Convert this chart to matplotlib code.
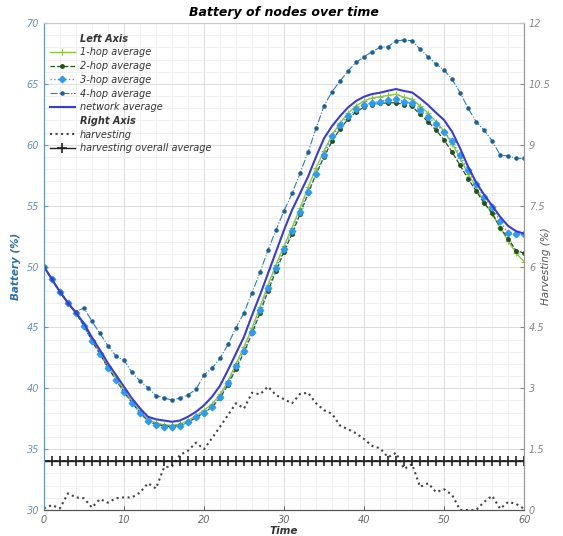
import numpy as np
import matplotlib
matplotlib.use('Agg')
import matplotlib.pyplot as plt
from matplotlib.lines import Line2D
from matplotlib.ticker import MultipleLocator

t = np.arange(61)

hop1 = [50.0, 48.95, 47.9, 47.0, 46.2, 45.2, 44.0, 42.9, 41.8, 40.8,
        39.85, 38.9, 38.1, 37.45, 37.15, 37.0, 36.95, 37.05, 37.35, 37.75,
        38.2, 38.7, 39.5, 40.6, 42.0, 43.4, 44.95, 46.7, 48.5, 50.15,
        51.7, 53.2, 54.8, 56.5, 58.1, 59.5, 60.8, 61.8, 62.6, 63.2,
        63.6, 63.85, 63.95, 64.05, 64.15, 63.9, 63.75, 63.2, 62.6, 61.9,
        61.1, 60.1, 58.9, 57.6, 56.5, 55.3, 54.3, 53.2, 52.1, 51.1, 50.4]
hop2 = [50.0, 48.95, 47.9, 47.0, 46.2, 45.1, 43.9, 42.8, 41.7, 40.7,
        39.7, 38.8, 38.0, 37.3, 37.05, 36.9, 36.85, 36.95, 37.2, 37.6,
        38.0, 38.45, 39.2, 40.3, 41.6, 42.95, 44.5, 46.2, 48.0, 49.65,
        51.2, 52.7, 54.3, 56.0, 57.6, 59.0, 60.3, 61.3, 62.1, 62.7,
        63.1, 63.3, 63.4, 63.45, 63.45, 63.3, 63.15, 62.5, 61.9, 61.2,
        60.4, 59.4, 58.3, 57.2, 56.2, 55.2, 54.4, 53.2, 52.3, 51.3, 51.1]
hop3 = [50.0, 48.95, 47.9, 47.0, 46.2, 45.1, 43.9, 42.8, 41.7, 40.7,
        39.7, 38.8, 38.0, 37.3, 37.0, 36.85, 36.8, 36.9, 37.2, 37.6,
        38.0, 38.5, 39.3, 40.4, 41.8, 43.1, 44.65, 46.4, 48.2, 49.85,
        51.4, 52.9, 54.5, 56.1, 57.6, 59.2, 60.7, 61.6, 62.35, 62.9,
        63.25, 63.45, 63.55, 63.68, 63.73, 63.55, 63.4, 62.86, 62.3, 61.7,
        61.05, 60.3, 59.15, 57.9, 56.8, 55.7, 54.9, 53.7, 52.75, 52.7, 52.7]
hop4 = [50.0, 48.95, 47.9, 46.98, 46.3, 46.6, 45.5, 44.5, 43.5, 42.65,
        42.3, 41.3, 40.6, 40.05, 39.4, 39.2, 39.03, 39.2, 39.47, 39.9,
        41.1, 41.64, 42.46, 43.6, 44.98, 46.2, 47.85, 49.52, 51.36, 53.0,
        54.58, 56.0, 57.65, 59.4, 61.35, 63.2, 64.36, 65.24, 66.06, 66.77,
        67.23, 67.65, 68.0, 68.05, 68.55, 68.6, 68.55, 67.84, 67.23, 66.63,
        66.14, 65.37, 64.28, 63.0, 61.9, 61.2, 60.33, 59.16, 59.08, 58.89, 58.89]
network = [50.0, 48.95, 47.93, 47.03, 46.2, 45.33, 44.18, 43.14, 42.05, 41.09,
           40.13, 39.17, 38.35, 37.66, 37.45, 37.35, 37.25, 37.35, 37.66, 38.07,
           38.6, 39.3, 40.21, 41.5, 42.87, 44.23, 46.0, 47.66, 49.44, 51.22,
           53.0, 54.64, 56.0, 57.38, 59.02, 60.53, 61.54, 62.36, 63.07, 63.6,
           63.95, 64.17, 64.28, 64.44, 64.58, 64.42, 64.3, 63.81, 63.26, 62.63,
           62.03, 61.07, 59.71, 58.2, 56.9, 55.9, 55.0, 54.09, 53.33, 52.9, 52.7]

harvesting = [0.04, 0.12, 0.04, 0.41, 0.31, 0.29, 0.06, 0.27, 0.18, 0.29,
              0.31, 0.31, 0.43, 0.66, 0.53, 1.05, 1.08, 1.36, 1.46, 1.66,
              1.5, 1.77, 2.05, 2.34, 2.63, 2.5, 2.89, 2.85, 3.04, 2.83,
              2.73, 2.63, 2.86, 2.89, 2.63, 2.46, 2.37, 2.08, 1.99, 1.89,
              1.75, 1.58, 1.52, 1.30, 1.41, 1.01, 1.13, 0.57, 0.66, 0.44,
              0.51, 0.37, 0.0, 0.0, 0.0, 0.2, 0.35, 0.03, 0.2, 0.15, 0.03]
harvest_avg = np.full(len(t), np.mean(harvesting))

fig = plt.figure(figsize=(5.63, 5.36), dpi=100)
ax = fig.add_axes([0.078, 0.0485, 0.853, 0.9085])
ax2 = ax.twinx()

c1, c2, c3, c4, cn = '#8cc63f', '#24501c', '#2d9cf0', '#2b7dbd', '#3b3bdc'
st1 = dict(color=c1, lw=1.0, ls='-', marker='+', ms=4.5, mew=0.8)
st2 = dict(color=c2, lw=0.9, ls='--', marker='.', ms=5)
st3 = dict(color=c3, lw=1.0, ls=':', marker='D', ms=3.3)
st4 = dict(color=c4, lw=0.8, ls='-.', marker='.', ms=4.5, mfc='#1f5f99', mec='#1f5f99')
stn = dict(color=cn, lw=1.5, ls='-')
sth = dict(color='#444444', lw=1.5, ls=':')
sta = dict(color='#222222', lw=1.0, ls='-', marker='+', ms=7, mew=1.2)

ax.plot(t, hop1, **st1)
ax.plot(t, hop2, **st2)
ax.plot(t, hop3, **st3)
ax.plot(t, hop4, **st4)
ax.plot(t, network, **stn)

ax2.plot(t, harvesting, **sth)
ax2.plot(t, harvest_avg, **sta)

ax.set_xlim(0, 60)
ax.set_ylim(30, 70)
ax2.set_ylim(0, 12)
ax.xaxis.set_major_locator(MultipleLocator(10))
ax.xaxis.set_minor_locator(MultipleLocator(2))
ax.yaxis.set_major_locator(MultipleLocator(5))
ax.yaxis.set_minor_locator(MultipleLocator(1))
ax2.yaxis.set_major_locator(MultipleLocator(1.5))
ax2.yaxis.set_major_formatter(plt.FuncFormatter(lambda v, p: f'{v:g}'))

ax.grid(True, which='major', color='#dcdcdc', lw=0.7)
ax.grid(True, which='minor', color='#eeeeee', lw=0.6)
ax.set_axisbelow(True)

left_col = '#6a93bb'
for a in (ax, ax2):
    a.spines['top'].set_color('#c8c8c8')
    a.spines['bottom'].set_color('#555555')
    a.spines['left'].set_color(left_col)
    a.spines['right'].set_color('#999999')
ax.tick_params(axis='x', which='both', direction='in', labelsize=7, colors='#666666', length=3)
ax.tick_params(axis='x', which='minor', length=0)
ax.tick_params(axis='y', which='major', direction='in', labelsize=7, colors=left_col, length=3)
ax.tick_params(axis='y', which='minor', length=0)
ax2.tick_params(axis='y', direction='in', labelsize=7, colors='#888888', length=3)
for lab in ax.get_xticklabels() + ax.get_yticklabels() + ax2.get_yticklabels():
    lab.set_fontstyle('italic')

ax.set_title('Battery of nodes over time', fontsize=9, fontweight='bold',
             fontstyle='italic', pad=5)
ax.set_xlabel('Time', fontsize=7.5, fontweight='bold', fontstyle='italic',
              color='#333333', labelpad=1)
ax.set_ylabel('Battery (%)', fontsize=7.5, fontweight='bold', fontstyle='italic',
              color='#2f6fa8', labelpad=4)
ax2.set_ylabel('Harvesting (%)', fontsize=7.5, fontstyle='italic', color='#555555')
ax2.yaxis.set_label_coords(1.035, 0.5)

# legend with two header rows (no handle) splitting left/right axis series
blank = Line2D([], [], linestyle='none')
handles = [blank, Line2D([], [], **st1), Line2D([], [], **st2),
           Line2D([], [], **st3), Line2D([], [], **st4), Line2D([], [], **stn),
           blank, Line2D([], [], **sth), Line2D([], [], **sta)]
labels = ['Left Axis', '1-hop average', '2-hop average', '3-hop average',
          '4-hop average', 'network average', 'Right Axis', 'harvesting',
          'harvesting overall average']
leg = ax2.legend(handles, labels, loc='upper left', bbox_to_anchor=(0.0, 0.99),
                 frameon=False, handlelength=2.6, handletextpad=0.5,
                 labelspacing=0.38, borderaxespad=0.2, prop={'style': 'italic', 'size': 7})
for txt in leg.get_texts():
    if txt.get_text() in ('Left Axis', 'Right Axis'):
        txt.set_fontweight('bold')
    txt.set_color('#333333')

fig.savefig('out.png', dpi=100)
